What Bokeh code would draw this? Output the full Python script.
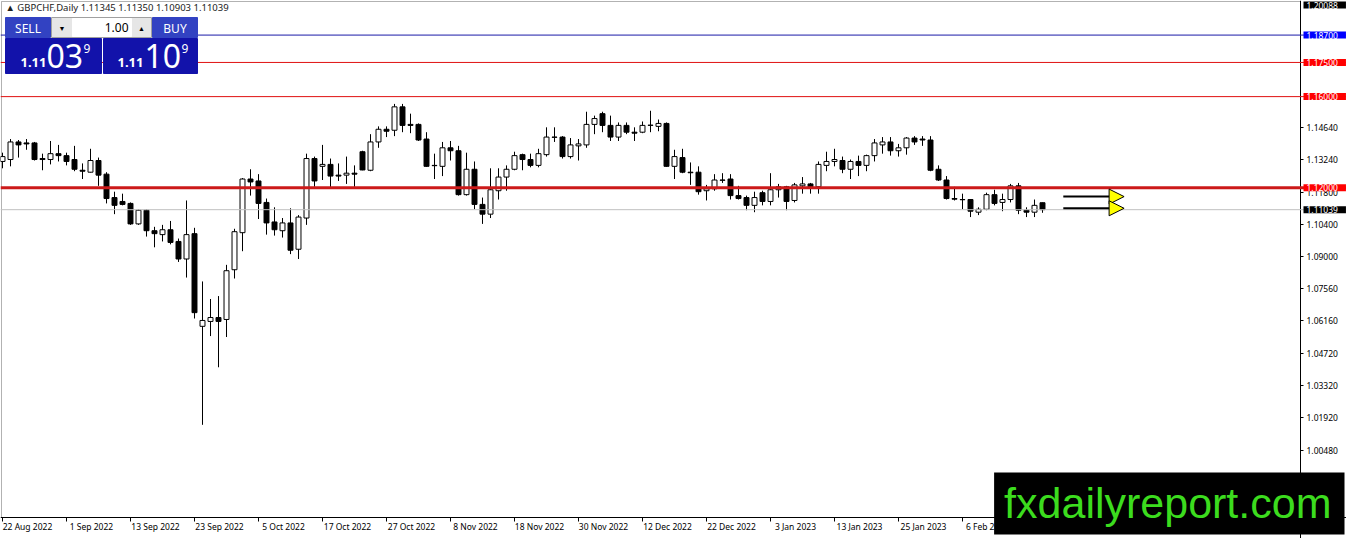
import numpy as np
from bokeh.plotting import figure
from bokeh.models import (ColumnDataSource, FixedTicker, Span, Label, BoxAnnotation,
                          Arrow, NormalHead, Range1d, PrintfTickFormatter, LinearAxis)
from bokeh.embed import file_html
from bokeh.resources import INLINE

symbol = "GBPCHF,Daily"
date_ticks = list(range(0, 121, 8))
date_labels = ["22 Aug 2022", "1 Sep 2022", "13 Sep 2022", "23 Sep 2022", "5 Oct 2022",
               "17 Oct 2022", "27 Oct 2022", "8 Nov 2022", "18 Nov 2022", "30 Nov 2022",
               "12 Dec 2022", "22 Dec 2022", "3 Jan 2023", "13 Jan 2023", "25 Jan 2023",
               "6 Feb 2023"]

opens = [1.13155, 1.13240, 1.14011, 1.13968, 1.13968, 1.13283, 1.13240, 1.13497, 1.13411, 1.13240,
         1.12769, 1.12684, 1.13197, 1.12598, 1.11571, 1.11400, 1.11314, 1.10415, 1.11015, 1.10116,
         1.09945, 1.10159, 1.09645, 1.08875, 1.09987, 1.05921, 1.06135, 1.06307, 1.06221, 1.08404,
         1.10030, 1.12384, 1.12299, 1.11357, 1.10501, 1.10116, 1.10458, 1.09303, 1.10672, 1.13283,
         1.12941, 1.13026, 1.12555, 1.12555, 1.12641, 1.13583, 1.12769, 1.14011, 1.14567, 1.14524,
         1.15551, 1.14781, 1.14781, 1.14139, 1.12983, 1.12941, 1.13754, 1.13625, 1.11699, 1.12812,
         1.11271, 1.10843, 1.11871, 1.12470, 1.12812, 1.13454, 1.13240, 1.12983, 1.13454, 1.14225,
         1.14225, 1.13369, 1.13839, 1.13882, 1.14781, 1.15252, 1.14738, 1.14225, 1.14738, 1.14439,
         1.14439, 1.14738, 1.14695, 1.14824, 1.12941, 1.13326, 1.12684, 1.12684, 1.11871, 1.11956,
         1.12341, 1.12384, 1.11657, 1.11571, 1.11229, 1.11785, 1.11400, 1.11913, 1.12042, 1.11443,
         1.12085, 1.12170, 1.12042, 1.12983, 1.13155, 1.13197, 1.12812, 1.13155, 1.12983, 1.13411,
         1.13882, 1.14011, 1.13625, 1.13754, 1.14182, 1.14139, 1.14096, 1.12812, 1.12341, 1.11528,
         1.11485, 1.11485, 1.10929, 1.11057, 1.11699, 1.11357, 1.11485, 1.12085, 1.11015, 1.10929,
         1.11345]
highs = [1.13540, 1.14139, 1.14096, 1.14139, 1.14011, 1.13497, 1.14053, 1.13882, 1.13540, 1.13839,
         1.13069, 1.13711, 1.13326, 1.12684, 1.11828, 1.11742, 1.11357, 1.11057, 1.11057, 1.10287,
         1.10373, 1.10544, 1.09773, 1.11443, 1.10244, 1.07890, 1.07120, 1.07248, 1.08618, 1.10201,
         1.12427, 1.12812, 1.12598, 1.11528, 1.11143, 1.10672, 1.11100, 1.10801, 1.13497, 1.13369,
         1.13882, 1.13283, 1.13069, 1.13369, 1.12983, 1.13625, 1.14353, 1.14695, 1.14695, 1.15680,
         1.15680, 1.15252, 1.14824, 1.14439, 1.13497, 1.14011, 1.14053, 1.13839, 1.13540, 1.13155,
         1.11571, 1.12855, 1.12855, 1.12983, 1.13583, 1.13497, 1.13497, 1.13711, 1.14653, 1.14653,
         1.14267, 1.14182, 1.14139, 1.15337, 1.15166, 1.15337, 1.15166, 1.14867, 1.14867, 1.14653,
         1.14909, 1.15380, 1.14995, 1.14867, 1.13668, 1.13711, 1.13112, 1.12941, 1.12127, 1.12598,
         1.12641, 1.12598, 1.12085, 1.11657, 1.11828, 1.11871, 1.12641, 1.12170, 1.12085, 1.12213,
         1.12470, 1.12213, 1.13155, 1.13583, 1.13711, 1.13369, 1.13240, 1.13411, 1.13454, 1.14139,
         1.14225, 1.14225, 1.13925, 1.14225, 1.14267, 1.14267, 1.14267, 1.12983, 1.12513, 1.12042,
         1.11742, 1.11500, 1.11143, 1.11785, 1.11913, 1.11742, 1.12170, 1.12213, 1.11143, 1.11485,
         1.11350]
lows = [1.12855, 1.12941, 1.13326, 1.13668, 1.13197, 1.12769, 1.13026, 1.13155, 1.12983, 1.12727,
        1.12384, 1.12670, 1.12085, 1.11314, 1.10843, 1.11229, 1.10373, 1.10373, 1.09859, 1.09388,
        1.09645, 1.09517, 1.08746, 1.08061, 1.06264, 1.01599, 1.05493, 1.04124, 1.05451, 1.08019,
        1.09217, 1.11657, 1.10629, 1.09945, 1.09902, 1.09816, 1.09089, 1.08875, 1.10373, 1.12042,
        1.12341, 1.11999, 1.12299, 1.12170, 1.12042, 1.12769, 1.12727, 1.13754, 1.14225, 1.14267,
        1.14439, 1.14396, 1.14053, 1.12920, 1.12384, 1.12513, 1.13197, 1.11657, 1.11657, 1.11057,
        1.10415, 1.10672, 1.11485, 1.11871, 1.12769, 1.12769, 1.12898, 1.12898, 1.13369, 1.14011,
        1.13283, 1.13283, 1.13197, 1.13754, 1.14353, 1.14439, 1.14053, 1.14053, 1.14353, 1.14053,
        1.14396, 1.14439, 1.14481, 1.12920, 1.12384, 1.12641, 1.12127, 1.11699, 1.11443, 1.11871,
        1.12213, 1.11485, 1.11485, 1.11015, 1.10929, 1.11229, 1.11229, 1.11571, 1.11015, 1.11357,
        1.11742, 1.11742, 1.11742, 1.12727, 1.12941, 1.12641, 1.12384, 1.12513, 1.12727, 1.13155,
        1.13497, 1.13411, 1.13369, 1.13454, 1.13882, 1.13839, 1.12727, 1.12299, 1.11485, 1.11443,
        1.11057, 1.10715, 1.10801, 1.11015, 1.11229, 1.10972, 1.11357, 1.10843, 1.10715, 1.10715,
        1.10903]
closes = [1.13369, 1.14011, 1.13882, 1.13925, 1.13240, 1.13240, 1.13497, 1.13411, 1.13155, 1.12812,
          1.12727, 1.13197, 1.12555, 1.11528, 1.11229, 1.11271, 1.10415, 1.11015, 1.10116, 1.09987,
          1.10159, 1.09602, 1.08875, 1.09945, 1.06521, 1.06178, 1.06307, 1.06135, 1.08361, 1.10073,
          1.12384, 1.12256, 1.11314, 1.10458, 1.10159, 1.10458, 1.09260, 1.10715, 1.13283, 1.12299,
          1.13026, 1.12513, 1.12513, 1.12641, 1.12598, 1.12782, 1.14011, 1.14567, 1.14481, 1.15551,
          1.14738, 1.14738, 1.14096, 1.12941, 1.12970, 1.13754, 1.13625, 1.11699, 1.12812, 1.11271,
          1.10843, 1.11913, 1.12470, 1.12812, 1.13411, 1.13240, 1.12983, 1.13497, 1.14225, 1.14215,
          1.13369, 1.13882, 1.13925, 1.14781, 1.15038, 1.14738, 1.14225, 1.14738, 1.14439, 1.14396,
          1.14738, 1.14748, 1.14824, 1.12941, 1.13369, 1.12684, 1.12660, 1.11828, 1.11956, 1.12341,
          1.12330, 1.11657, 1.11528, 1.11229, 1.11571, 1.11400, 1.11913, 1.12042, 1.11400, 1.12127,
          1.12170, 1.12042, 1.13026, 1.13155, 1.13240, 1.12812, 1.13155, 1.12983, 1.13411, 1.13968,
          1.14011, 1.13625, 1.13754, 1.14182, 1.14011, 1.14096, 1.12769, 1.12341, 1.11528, 1.11500,
          1.11475, 1.10972, 1.11057, 1.11699, 1.11314, 1.11485, 1.12085, 1.11015, 1.10929, 1.11229,
          1.11039]

price_ticks = [1.00480, 1.01920, 1.03320, 1.04720, 1.06160, 1.07560, 1.09000,
               1.10400, 1.11800, 1.13240, 1.14640]
chart_high = 1.20088
chart_top = 1.20174
chart_low = 0.97532
level_prices = [1.18700, 1.17500, 1.16000, 1.12000]
last_price = closes[-1]
arrow_levels = [1.11614, 1.11100]
arrow_x = [132.6, 140.2]

# ---------------- layout (canvas pixels; frame == whole canvas) ----------------
W, H = 1346, 538
PX_PER_BAR = 8.0
BAR0_PX = 2.0          # x pixel of the first bar
AXIS_X_PX = 1300.0     # price axis line
TOP_PX, BOT_PX = 1.0, 517.0   # chart top border / time axis line

x_start = -BAR0_PX / PX_PER_BAR
x_end = x_start + W / PX_PER_BAR
ppp = (chart_top - chart_low) / (BOT_PX - TOP_PX)   # price per pixel
y_start = chart_low - (H - BOT_PX) * ppp
y_end = chart_top + TOP_PX * ppp
axis_x = x_start + AXIS_X_PX / PX_PER_BAR

p = figure(width=W, height=H, x_range=Range1d(x_start, x_end), y_range=Range1d(y_start, y_end),
           x_axis_location=None, y_axis_location=None,
           output_backend="svg", toolbar_location=None,
           min_border_left=0, min_border_top=0, min_border_right=0, min_border_bottom=0)
p.grid.visible = False
p.background_fill_color = "white"
p.border_fill_color = "white"
p.outline_line_color = None

AX_FONT = "Noto Sans"


def style_axis(ax):
    ax.axis_line_color = "black"
    ax.major_tick_line_color = "black"
    ax.minor_tick_line_color = None
    ax.major_tick_in = 0
    ax.major_label_text_font = AX_FONT
    ax.major_label_text_font_size = "8.5px"
    ax.major_label_text_color = "black"


# chart border (left / top)
p.add_layout(BoxAnnotation(left=1, right=AXIS_X_PX, top=H - TOP_PX, bottom=H - BOT_PX,
                           left_units="screen", right_units="screen",
                           top_units="screen", bottom_units="screen",
                           fill_alpha=0, line_color="black", line_width=1, level="underlay"))

# time axis: tick marks at bars, labels left-aligned after each tick
LABEL_SHIFT = 3.125
ax_t = LinearAxis(fixed_location=chart_low, ticker=FixedTicker(ticks=date_ticks),
                  major_label_overrides={t: "" for t in date_ticks})
style_axis(ax_t)
ax_t.major_tick_out = 4
p.add_layout(ax_t, "below")

lab_ticks = [t + LABEL_SHIFT for t in date_ticks]
ax_l = LinearAxis(fixed_location=chart_low, ticker=FixedTicker(ticks=lab_ticks),
                  major_label_overrides={t: s for t, s in zip(lab_ticks, date_labels)})
style_axis(ax_l)
ax_l.axis_line_color = None
ax_l.major_tick_line_color = None
ax_l.major_tick_out = 0
ax_l.major_label_standoff = 3
p.add_layout(ax_l, "below")

# price axis
ax_p = LinearAxis(fixed_location=axis_x, ticker=FixedTicker(ticks=price_ticks),
                  formatter=PrintfTickFormatter(format="%.5f"))
style_axis(ax_p)
ax_p.major_tick_out = 3
ax_p.major_label_standoff = 3
p.add_layout(ax_p, "right")

# ---------------- level lines ----------------
level_colors = ["#1a1aa8", "#e01010", "#e01010", "#cc1a1a"]
level_widths = [1, 1, 1, 3]
for lv, c, w in zip(level_prices, level_colors, level_widths):
    p.add_layout(Span(location=lv, dimension="width", line_color=c, line_width=w))
p.add_layout(Span(location=last_price, dimension="width", line_color="#c0c0c0", line_width=1))

# ---------------- candles ----------------
o = np.array(opens); h = np.array(highs); l = np.array(lows); c = np.array(closes)
idx = np.arange(len(o))
up = c >= o
src_up = ColumnDataSource(dict(x=idx[up], top=c[up], bottom=o[up], h=h[up], l=l[up]))
src_dn = ColumnDataSource(dict(x=idx[~up], top=o[~up], bottom=c[~up], h=h[~up], l=l[~up]))
for src in (src_up, src_dn):
    p.segment(x0="x", y0="h", x1="x", y1="l", source=src, line_color="black", line_width=1)
p.vbar(x="x", width=0.62, top="top", bottom="bottom", source=src_up,
       fill_color="white", line_color="black", line_width=1)
p.vbar(x="x", width=0.62, top="top", bottom="bottom", source=src_dn,
       fill_color="black", line_color="black", line_width=1)

# ---------------- arrows ----------------
for lv in arrow_levels:
    p.add_layout(Arrow(end=NormalHead(size=15, fill_color="#ffff00", line_color="black", line_width=1),
                       x_start=arrow_x[0], y_start=lv, x_end=arrow_x[1], y_end=lv,
                       line_color="black", line_width=2))


def set_pad(lab, pad, fallback):
    try:
        lab.padding = pad
    except Exception:
        lab.padding = fallback


# ---------------- price tags on the axis ----------------
tags = [(chart_high, "black"), (level_prices[0], "#0000ff")] + \
       [(lv, "#ff0000") for lv in level_prices[1:]] + [(last_price, "black")]
for k, (pr, bg) in enumerate(tags):
    top_tag = (k == 0)
    lab = Label(x=AXIS_X_PX + 3, y=(H - TOP_PX) if top_tag else pr,
                x_units="screen", y_units="screen" if top_tag else "data",
                text=f"{pr:.5f}",
                text_align="left", text_baseline="top" if top_tag else "middle",
                text_color="white", text_font=AX_FONT, text_font_size="8.5px",
                background_fill_color=bg, background_fill_alpha=1.0)
    set_pad(lab, dict(left=3, right=8, top=0, bottom=0), 2)
    p.add_layout(lab)


# ---------------- header & trade panel (positions in canvas px from top-left) ----------------
def sbox(x0, x1, y0, y1, fill, line=None):
    p.add_layout(BoxAnnotation(left=x0, right=x1, top=H - y0, bottom=H - y1,
                               left_units="screen", right_units="screen",
                               top_units="screen", bottom_units="screen",
                               fill_color=fill, fill_alpha=1.0,
                               line_color=line if line else fill, line_alpha=1.0, line_width=1))


def stext(x, y, txt, size, color, align="left", baseline="middle", style="normal", font="Noto Sans"):
    p.add_layout(Label(x=x, y=H - y, x_units="screen", y_units="screen", text=txt,
                       text_font=font, text_font_size=f"{size}px", text_color=color,
                       text_align=align, text_baseline=baseline, text_font_style=style))


header = f"\u25B2 {symbol}  {opens[-1]:.5f} {highs[-1]:.5f} {lows[-1]:.5f} {closes[-1]:.5f}"
stext(5, 7, header, 9.5, "#202020")

panel_blue = "#3242c2"
block_blue = "#1212aa"
sbox(5, 50, 17, 37, panel_blue)
sbox(152, 197, 17, 37, panel_blue)
sbox(51, 151, 17, 37, "#e6e6e6", "#a0a0a0")
sbox(72, 131, 18, 36, "white", "white")
sbox(5, 101, 38, 73, block_blue)
sbox(103, 197, 38, 73, block_blue)
stext(27.5, 27.5, "SELL", 12, "white", align="center")
stext(174.5, 27.5, "BUY", 12, "white", align="center")
stext(61.5, 27.5, "\u25BC", 7, "black", align="center")
stext(141, 27.5, "\u25B2", 7, "black", align="center")
stext(128, 27, "1.00", 12, "black", align="right")
stext(20, 62, "1.11", 13, "white", style="bold")
stext(46, 55, "03", 32, "white")
stext(83, 48, "9", 12, "white")
stext(117, 62, "1.11", 13, "white", style="bold")
stext(144, 55, "10", 32, "white")
stext(181, 48, "9", 12, "white")

# ---------------- watermark ----------------
wm = Label(x=W - 2, y=H - 503, x_units="screen", y_units="screen", text="fxdailyreport.com",
           text_font="Liberation Sans", text_font_size="43px", text_color="#3cdc1e",
           text_align="right", text_baseline="middle",
           background_fill_color="black", background_fill_alpha=1.0)
set_pad(wm, dict(left=10, right=13, top=6, bottom=8), 8)
p.add_layout(wm)

open("out.html", "w").write(file_html(p, INLINE))
